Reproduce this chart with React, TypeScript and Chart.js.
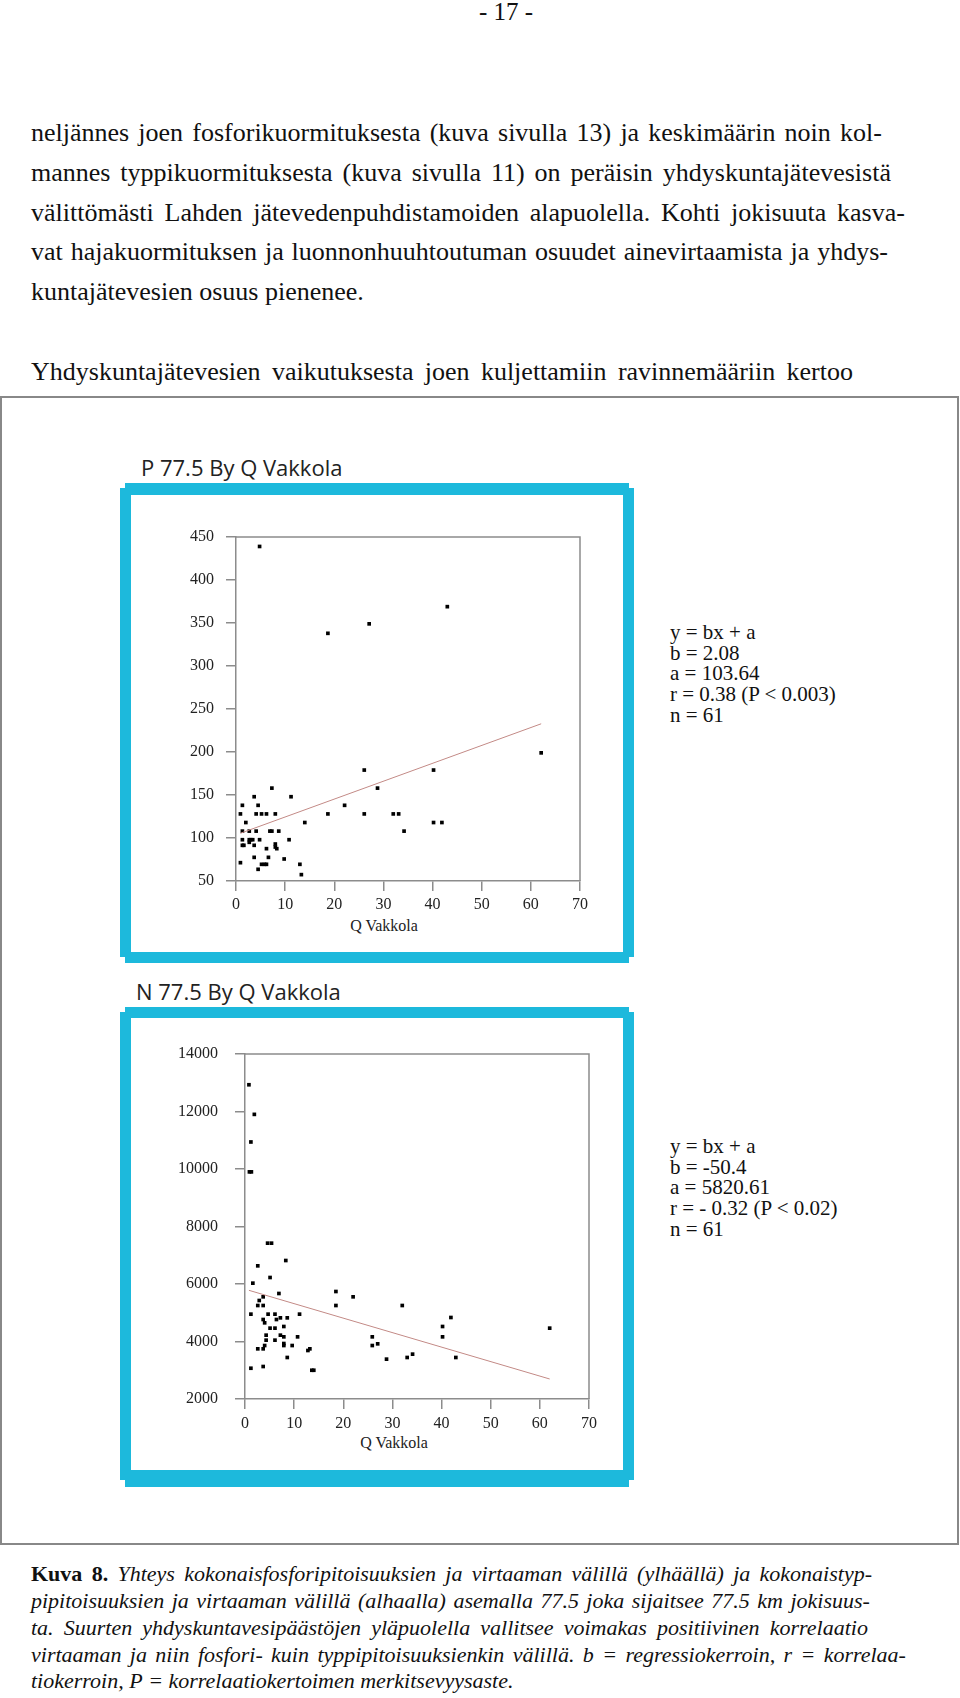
import React, { useEffect, useRef } from "react";
import { Chart, registerables } from "chart.js";
Chart.register(...registerables);

// ---------- data ----------
const qTicks = [0, 10, 20, 30, 40, 50, 60, 70];
const pYTicks = [50, 100, 150, 200, 250, 300, 350, 400, 450];
const nYTicks = [2000, 4000, 6000, 8000, 10000, 12000, 14000];

const pQ = [4.8, 18.7, 27.1, 43.0, 62.1, 26.1, 40.2, 28.8, 7.3, 11.2, 3.7, 1.3, 4.5, 22.1, 0.9, 4.1, 5.2, 6.2, 8.0, 18.7, 26.1, 32.0, 33.1, 2.0, 14.0, 40.2, 41.9, 1.3, 2.7, 4.1, 6.9, 7.3, 8.7, 34.2, 1.3, 2.7, 3.0, 3.4, 4.8, 10.8, 1.3, 1.6, 2.7, 3.7, 8.0, 8.0, 6.2, 8.3, 3.7, 6.6, 9.8, 0.9, 5.2, 5.8, 6.2, 13.0, 4.5, 13.3];
const pVal = [439, 338, 349, 369, 199, 179, 179, 158, 158, 148, 148, 138, 138, 138, 128, 128, 128, 128, 128, 128, 128, 128, 128, 118, 118, 118, 118, 108, 108, 108, 108, 108, 108, 108, 98, 98, 98, 98, 98, 98, 91.5, 91.5, 95, 91.5, 93, 89.5, 87.6, 87.6, 77.5, 77.5, 75.6, 71.3, 69.4, 69.4, 69.4, 69.4, 63.6, 57.4];

const nQ = [0.8, 1.9, 1.2, 0.9, 1.3, 4.6, 5.4, 8.3, 2.6, 5.1, 1.6, 6.9, 18.5, 22.0, 18.5, 32.0, 3.7, 2.9, 2.6, 3.7, 1.2, 4.7, 6.1, 11.1, 41.9, 3.7, 4.0, 6.4, 7.2, 8.6, 5.1, 6.1, 7.9, 40.2, 62.0, 4.3, 7.2, 7.9, 10.7, 25.9, 40.2, 4.3, 6.1, 7.9, 7.9, 25.9, 27.0, 9.6, 2.6, 3.7, 4.0, 12.8, 13.2, 8.6, 28.8, 33.0, 34.1, 42.9, 1.2, 3.7, 13.6, 14.0];
const nVal = [12930, 11900, 10940, 9900, 9900, 7420, 7420, 6817, 6632, 6226, 6029, 5670, 5739, 5554, 5252, 5252, 5554, 5426, 5252, 5252, 4951, 4951, 4951, 4951, 4835, 4765, 4650, 4765, 4823, 4823, 4464, 4464, 4522, 4522, 4464, 4220, 4220, 4162, 4162, 4162, 4162, 4046, 4046, 3930, 3860, 3860, 3919, 3860, 3745, 3745, 3860, 3687, 3745, 3444, 3386, 3444, 3560, 3444, 3070, 3130, 3000, 3000];

// regression coefficients printed on the figure
const pFit = [2.08, 103.64]; // b, a
const nFit = [-50.4, 5820.61];

const pStats = ["y = bx + a", "b = 2.08", "a = 103.64", "r = 0.38 (P < 0.003)", "n = 61"];
const nStats = ["y = bx + a", "b = -50.4", "a = 5820.61", "r = - 0.32 (P < 0.02)", "n = 61"];

const bodyLines = [
  "neljännes joen fosforikuormituksesta (kuva sivulla 13) ja keskimäärin noin kol-",
  "mannes typpikuormituksesta (kuva sivulla 11) on peräisin yhdyskuntajätevesistä",
  "välittömästi Lahden jätevedenpuhdistamoiden alapuolella. Kohti jokisuuta kasva-",
  "vat hajakuormituksen ja luonnonhuuhtoutuman osuudet ainevirtaamista ja yhdys-",
  "kuntajätevesien osuus pienenee.",
  "Yhdyskuntajätevesien vaikutuksesta joen kuljettamiin ravinnemääriin kertoo",
];
const captionLines = [
  "Kuva 8. Yhteys kokonaisfosforipitoisuuksien ja virtaaman välillä (ylhäällä) ja kokonaistyp-",
  "pipitoisuuksien ja virtaaman välillä (alhaalla) asemalla 77.5 joka sijaitsee 77.5 km jokisuus-",
  "ta. Suurten yhdyskuntavesipäästöjen yläpuolella vallitsee voimakas positiivinen korrelaatio",
  "virtaaman ja niin fosfori- kuin typpipitoisuuksienkin välillä. b = regressiokerroin, r = korrelaa-",
  "tiokerroin, P = korrelaatiokertoimen merkitsevyysaste.",
];

// ---------- styles ----------
const CYAN = "#1db9dc";
const AXIS = "#8c8c8c";
const SERIF = "'Liberation Serif', 'Times New Roman', serif";

const plotFrame = {
  id: "plotFrame",
  afterDraw(chart: any) {
    const { ctx, chartArea: a } = chart;
    ctx.save();
    ctx.strokeStyle = AXIS;
    ctx.lineWidth = 1.5;
    ctx.beginPath();
    ctx.moveTo(a.left, a.top);
    ctx.lineTo(a.right, a.top);
    ctx.lineTo(a.right, a.bottom);
    ctx.stroke();
    ctx.restore();
  },
};

type Cfg = {
  xs: number[];
  ys: number[];
  fit: number[];
  yTicks: number[];
  yWidth: number;
  yPad: number;
  xPad: number;
  padding: { top: number; right: number; left: number; bottom: number };
};

function ScatterChart(props: Cfg & { w: number; h: number }) {
  const ref = useRef<HTMLCanvasElement | null>(null);
  useEffect(() => {
    if (!ref.current) return;
    const { xs, ys, fit, yTicks } = props;
    const xMin = Math.min(...xs);
    const xMax = Math.max(...xs);
    const pts = xs.map((x, i) => ({ x, y: ys[i] }));
    const line = [xMin, xMax].map((x) => ({ x, y: fit[0] * x + fit[1] }));
    const tickFont = { family: SERIF, size: 16 };
    const chart = new Chart(ref.current, {
      type: "scatter",
      data: {
        datasets: [
          {
            type: "line",
            data: line,
            borderColor: "#c38a86",
            borderWidth: 1,
            pointRadius: 0,
            fill: false,
          } as any,
          {
            type: "scatter",
            data: pts,
            pointStyle: "rect",
            pointRadius: 2.6,
            pointBorderWidth: 0,
            backgroundColor: "#000",
            borderColor: "#000",
          } as any,
        ],
      },
      options: {
        animation: false,
        responsive: true,
        maintainAspectRatio: false,
        layout: { padding: props.padding },
        plugins: { legend: { display: false }, tooltip: { enabled: false } },
        scales: {
          x: {
            type: "linear",
            min: qTicks[0],
            max: qTicks[qTicks.length - 1],
            afterBuildTicks: (s: any) => {
              s.ticks = qTicks.map((v) => ({ value: v }));
            },
            ticks: { font: tickFont, color: "#222", padding: props.xPad, maxRotation: 0, callback: (v: any) => String(v) },
            grid: { drawOnChartArea: false, tickLength: 10, color: AXIS, lineWidth: 1.5 },
            border: { color: AXIS, width: 1.5 },
            afterFit: (s: any) => {
              s.height = 34;
            },
          },
          y: {
            type: "linear",
            min: yTicks[0],
            max: yTicks[yTicks.length - 1],
            afterBuildTicks: (s: any) => {
              s.ticks = yTicks.map((v) => ({ value: v }));
            },
            ticks: { font: tickFont, color: "#222", padding: props.yPad, callback: (v: any) => String(v) },
            grid: { drawOnChartArea: false, tickLength: 10, color: AXIS, lineWidth: 1.5 },
            border: { color: AXIS, width: 1.5 },
            afterFit: (s: any) => {
              s.width = props.yWidth;
            },
          },
        },
      },
      plugins: [plotFrame],
    } as any);
    return () => chart.destroy();
  }, []);
  return (
    <div style={{ position: "relative", width: props.w, height: props.h }}>
      <canvas ref={ref} />
    </div>
  );
}

function Frame({ top, r1Top, r1Bottom, bottom, innerTop, innerBottom }: any) {
  return (
    <>
      <div style={{ position: "absolute", left: 125, width: 504, top, height: bottom - top, background: CYAN }} />
      <div style={{ position: "absolute", left: 120, width: 514, top: r1Top, height: r1Bottom - r1Top, background: CYAN }} />
      <div style={{ position: "absolute", left: 131, width: 492, top: innerTop, height: innerBottom - innerTop, background: "#fff" }} />
    </>
  );
}

function JLine({ text, left, top, width, size, lh, italic, boldWords, justify }: any) {
  const words = text.split(" ");
  return (
    <div
      style={{
        position: "absolute",
        left,
        top,
        width: justify ? width : undefined,
        display: "flex",
        justifyContent: justify ? "space-between" : "flex-start",
        gap: justify ? 0 : "0.25em",
        fontFamily: SERIF,
        fontSize: size,
        lineHeight: lh + "px",
        fontStyle: italic ? "italic" : "normal",
        color: "#111",
        whiteSpace: "nowrap",
      }}
    >
      {words.map((w: string, i: number) => (
        <span
          key={i}
          style={{
            fontWeight: boldWords && i < boldWords ? "bold" : "normal",
            fontStyle: boldWords && i < boldWords ? "normal" : undefined,
          }}
        >
          {w}
        </span>
      ))}
    </div>
  );
}

function Stats({ lines, top }: { lines: string[]; top: number }) {
  return (
    <div style={{ position: "absolute", left: 670, top, fontFamily: SERIF, fontSize: 21, lineHeight: "20.7px", color: "#111", whiteSpace: "pre" }}>
      {lines.map((l, i) => (
        <div key={i}>{l}</div>
      ))}
    </div>
  );
}

export default function App() {
  const bodyTops = [113, 153, 193, 232, 272, 352];
  const bodyRight = [882, 891, 905, 888, 0, 853];
  const capTops = [1560, 1587, 1614, 1641, 1667];
  const capRight = [872, 870, 868, 906, 0];
  return (
    <div style={{ position: "absolute", left: 0, top: 0, width: 960, height: 1698, background: "#fff", overflow: "hidden" }}>
      <div style={{ position: "absolute", left: 0, width: 1012, top: -1, textAlign: "center", fontFamily: SERIF, fontSize: 25, lineHeight: "25px", color: "#111" }}>
        - 17 -
      </div>
      {bodyLines.map((t, i) => (
        <JLine key={i} text={t} left={31} top={bodyTops[i]} width={bodyRight[i] - 31} size={26} lh={40} justify={bodyRight[i] > 0} />
      ))}

      <div style={{ position: "absolute", left: 0, top: 396, width: 959, height: 1149, boxSizing: "border-box", border: "2px solid #888" }} />

      <div style={{ position: "absolute", left: 141, top: 456, fontFamily: "'Open Sans', sans-serif", fontSize: 22, lineHeight: "22px", color: "#222", whiteSpace: "nowrap" }}>
        P 77.5 By Q Vakkola
      </div>
      <Frame top={483} r1Top={488} r1Bottom={957} bottom={963} innerTop={495} innerBottom={952} />
      <div style={{ position: "absolute", left: 131, top: 495 }}>
        <ScatterChart
          w={492}
          h={420}
          xs={pQ}
          ys={pVal}
          fit={pFit}
          yTicks={pYTicks}
          yWidth={105}
          yPad={12}
          xPad={4}
          padding={{ top: 42, right: 43, left: 0, bottom: 0 }}
        />
      </div>
      <div style={{ position: "absolute", left: 284, width: 200, top: 916, textAlign: "center", fontFamily: SERIF, fontSize: 16, lineHeight: "20px", color: "#222" }}>
        Q Vakkola
      </div>
      <Stats lines={pStats} top={622} />

      <div style={{ position: "absolute", left: 136, top: 980, fontFamily: "'Open Sans', sans-serif", fontSize: 22, lineHeight: "22px", color: "#222", whiteSpace: "nowrap" }}>
        N 77.5 By Q Vakkola
      </div>
      <Frame top={1007} r1Top={1012} r1Bottom={1480} bottom={1487} innerTop={1018} innerBottom={1470} />
      <div style={{ position: "absolute", left: 131, top: 1018 }}>
        <ScatterChart
          w={492}
          h={415}
          xs={nQ}
          ys={nVal}
          fit={nFit}
          yTicks={nYTicks}
          yWidth={114}
          yPad={17}
          xPad={5}
          padding={{ top: 36, right: 34, left: 0, bottom: 0 }}
        />
      </div>
      <div style={{ position: "absolute", left: 294, width: 200, top: 1433, textAlign: "center", fontFamily: SERIF, fontSize: 16, lineHeight: "20px", color: "#222" }}>
        Q Vakkola
      </div>
      <Stats lines={nStats} top={1136} />

      {captionLines.map((t, i) => (
        <JLine key={i} text={t} left={31} top={capTops[i]} width={capRight[i] - 31} size={22} lh={27} italic justify={capRight[i] > 0} boldWords={i === 0 ? 2 : 0} />
      ))}
    </div>
  );
}
